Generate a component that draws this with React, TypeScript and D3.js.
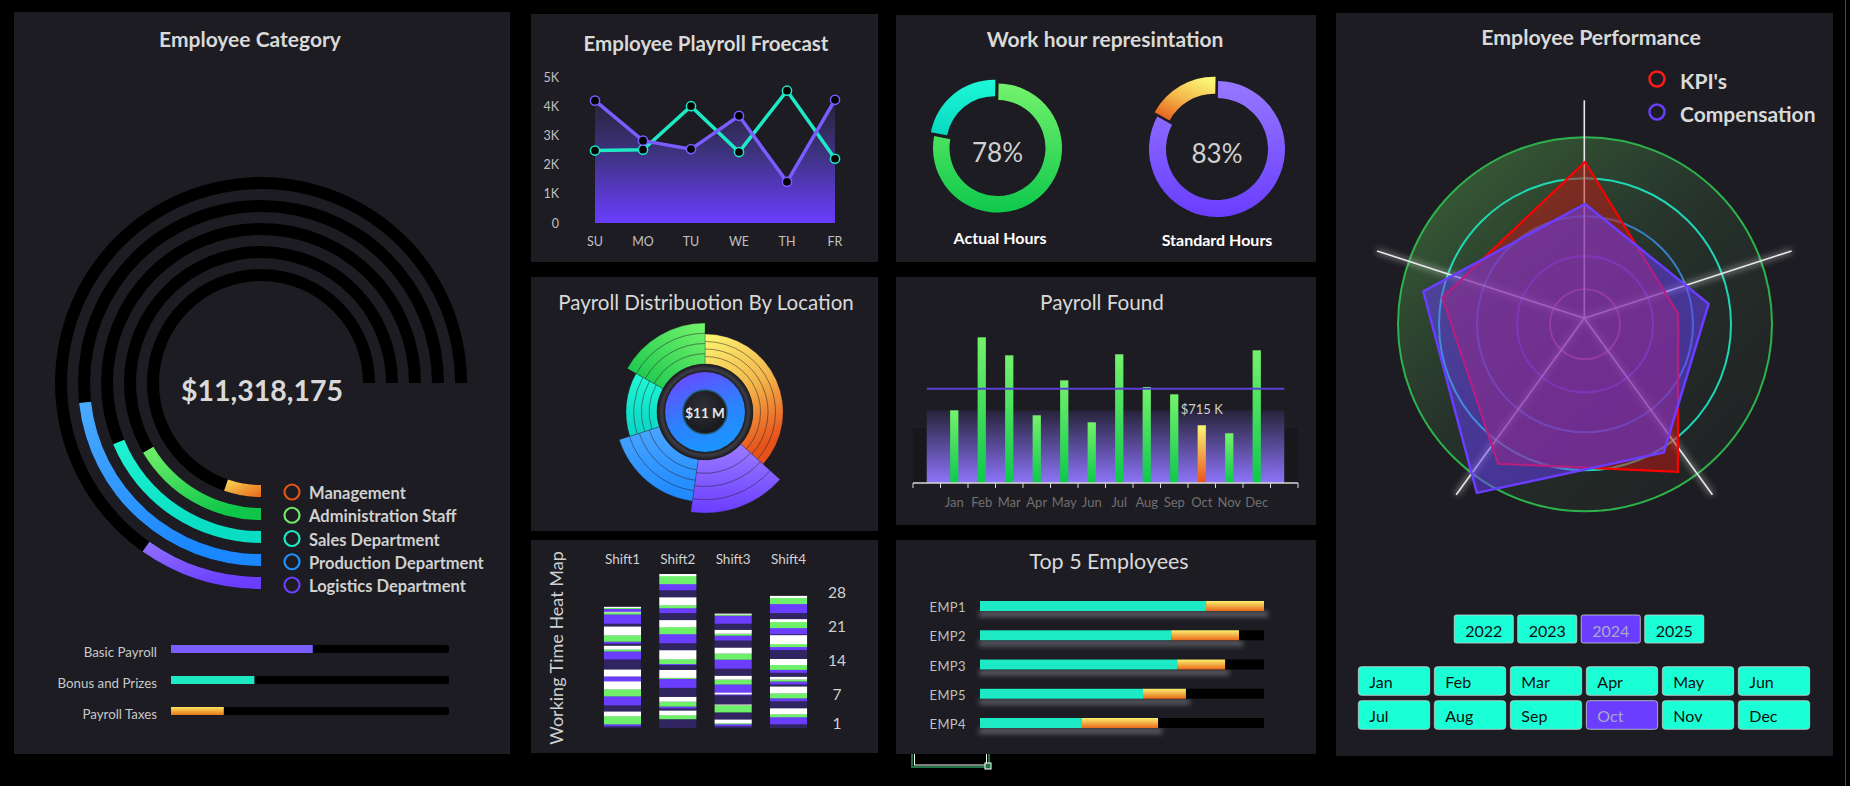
import React from "react";
import * as d3 from "d3";

const FONT = "Lato, 'Open Sans', 'Liberation Sans', sans-serif";
const TITLE = "#d9d9d9";
const PANEL = "#1d1c22";

// ---------------- DATA ----------------
const categoryNames = ["Management", "Administration Staff", "Sales Department", "Production Department", "Logistics Department"];
const categoryPct = [7, 22, 25, 31, 13];
const categoryTotal = 11318175;
const payrollParts = ["Basic Payroll", "Bonus and Prizes", "Payroll Taxes"];
const payrollPartPct = [51, 30, 19];

const forecastDays = ["SU", "MO", "TU", "WE", "TH", "FR"];
const forecastPurple = [4190, 2820, 2530, 3670, 1410, 4220];
const forecastTeal = [2480, 2510, 4000, 2430, 4530, 2200];
const forecastTicks = [0, 1000, 2000, 3000, 4000, 5000];

const locationShare = [36.7, 15.6, 17.8, 13.1, 16.9];
const locationPayroll = [1.68, 2.96, 2.35, 1.73, 2.29];
const locationTotalLabel = "$11 M";

const shifts = ["Shift1", "Shift2", "Shift3", "Shift4"];
const heatTicks = [1, 7, 14, 21, 28];
// [level, hours] from bottom to top; level 0=low .. 3=peak
const shift1 = [[0,0.4],[1,0.4],[2,1.65],[3,1.0],[0,1.25],[1,1.85],[2,1.45],[3,1.65],[1,1.0],[3,1.45],[0,2.05],[1,1.65],[2,0.4],[3,0.8],[0,0.4],[1,0.4],[2,1.3],[3,1.85],[0,0.55],[1,1.9],[2,0.4],[3,0.2],[1,0.55],[2,0.2],[3,0.2]];
const shift2 = [[0,1.85],[2,0.8],[3,1.0],[0,0.4],[1,0.4],[2,1.0],[3,1.0],[0,1.85],[1,1.85],[2,0.2],[3,1.65],[0,1.0],[1,0.2],[2,1.0],[3,1.85],[0,1.45],[1,1.85],[2,1.45],[3,1.45],[0,1.45],[1,1.0],[2,0.6],[3,1.65],[0,1.45],[1,1.25],[2,1.65],[3,0.4]];
const shift3 = [[0,0.4],[1,0.4],[2,0.2],[3,0.8],[0,1.45],[2,1.45],[3,0.2],[0,1.85],[1,0.2],[3,0.4],[1,1.65],[2,1.0],[3,0.8],[0,1.45],[1,1.85],[2,1.25],[3,1.25],[0,1.45],[1,1.0],[2,0.4],[3,0.8],[0,1.25],[1,1.65],[2,0.2],[3,0.2]];
const shift4 = [[0,0.8],[1,1.45],[2,0.6],[3,1.25],[0,1.45],[1,0.6],[2,1.0],[3,1.45],[0,0.4],[1,0.6],[2,0.4],[3,0.6],[0,0.8],[1,0.6],[2,1.0],[3,1.25],[0,1.85],[1,0.6],[2,0.6],[3,1.85],[0,0.2],[1,1.25],[2,1.25],[3,0.6],[0,1.25],[1,1.85],[2,1.25],[3,0.4]];
const shiftSegments = [shift1, shift2, shift3, shift4];

const workLabels = ["Actual Hours", "Standard Hours"];
const workPct = [78, 83];

const months = ["Jan", "Feb", "Mar", "Apr", "May", "Jun", "Jul", "Aug", "Sep", "Oct", "Nov", "Dec"];
const payrollFound = [901, 1805, 1582, 839, 1272, 752, 1595, 1190, 1099, 715, 616, 1644];
const payrollBackdrop = 900;
const payrollFloor = 680;
const highlightMonth = "Oct";

const employees = ["EMP1", "EMP2", "EMP3", "EMP5", "EMP4"];
const employeeBase = [79.6, 67.3, 69.4, 57.4, 35.9];
const employeeBonus = [20.4, 23.9, 16.9, 15.1, 26.8];

const radarSeries = ["KPI's", "Compensation"];
const kpiValues = [91, 49, 79, 74, 75];
const compValues = [70, 65, 67, 92, 85];
const years = ["2022", "2023", "2024", "2025"];
const selectedYear = "2024";
const selectedMonth = "Oct";

// ---------------- STYLE ----------------
const catGrad = [["#f7dc58", "#e8661a"], ["#74f06a", "#0fc64a"], ["#1ff3d2", "#08dcc2"], ["#4aaaff", "#1a86ff"], ["#9272ff", "#6a3dff"]];
const catLegend = ["#e0541a", "#6ee86a", "#1de9c5", "#1e90ff", "#6a3dff"];
const heatColors = ["#302560", "#6a3dff", "#6ef06a", "#ffffff"];
const locGrad = [
  [["#fbf672", 0], ["#f3b44a", 0.55], ["#e6521a", 1]],
  [["#9c7cff", 0], ["#6a3dff", 1]],
  [["#4aa6ff", 0], ["#1c88ff", 1]],
  [["#1ff8d4", 0], ["#0ad4c4", 1]],
  [["#76f46c", 0], ["#0fc24a", 1]],
];

const panels = [
  [14, 12, 496, 742],
  [531, 14, 347, 248],
  [531, 277, 347, 254],
  [531, 540, 347, 213],
  [896, 15, 420, 247],
  [896, 277, 420, 248],
  [896, 540, 420, 214],
  [1336, 13, 497, 743],
];

const arcGen = d3.arc();
const arc = (ir: number, or: number, s: number, e: number) =>
  arcGen({ innerRadius: ir, outerRadius: or, startAngle: s, endAngle: e } as any) || "";

function Title({ x, y, size, bold, children }: any) {
  return (
    <text x={x} y={y} fill={TITLE} fontSize={size} fontWeight={bold ? 700 : 400} textAnchor="middle" dominantBaseline="central">
      {children}
    </text>
  );
}

function CategoryPanel() {
  const cx = 261, cy = 383;
  const ring = d3.scaleBand<string>().domain(categoryNames).range([102, 206]).paddingInner(11 / 23).paddingOuter(0);
  const ang = d3.scaleLinear().domain([0, 100]).range([-Math.PI, Math.PI / 2]);
  const legendY = d3.scalePoint<string>().domain(categoryNames).range([492, 585]);
  const barY = d3.scalePoint<string>().domain(payrollParts).range([649, 711]);
  const barX = d3.scaleLinear().domain([0, 100]).range([171, 449]);
  const barFill = ["#7b5cff", "#1de9c5", "url(#taxg)"];
  return (
    <g>
      <defs>
        {catGrad.map((c, i) => (
          <linearGradient key={i} id={`catg${i}`} x1="0" y1="0" x2={i === 0 ? "1" : "0.5"} y2="1">
            <stop offset="0" stopColor={c[0]} />
            <stop offset="1" stopColor={c[1]} />
          </linearGradient>
        ))}
        <linearGradient id="taxg" x1="0" y1="0" x2="0" y2="1">
          <stop offset="0" stopColor="#fae45a" />
          <stop offset="1" stopColor="#e8761c" />
        </linearGradient>
      </defs>
      <Title x={250} y={38} size={21} bold>Employee Category</Title>
      {categoryNames.map((n, i) => {
        const r0 = ring(n)!;
        const r1 = r0 + ring.bandwidth();
        return (
          <g key={n} transform={`translate(${cx},${cy})`}>
            <path d={arc(r0, r1, ang(0), ang(100))} fill="#000" />
            <path d={arc(r0, r1, ang(0), ang(categoryPct[i]))} fill={`url(#catg${i})`} />
          </g>
        );
      })}
      <text x={262} y={390} fill="#d9d9d9" fontSize={28.5} fontWeight={700} textAnchor="middle" dominantBaseline="central">
        {d3.format("$,")(categoryTotal)}
      </text>
      {categoryNames.map((n, i) => (
        <g key={n}>
          <circle cx={292} cy={legendY(n)} r={7.5} fill="none" stroke={catLegend[i]} strokeWidth={2.2} />
          <text x={309} y={legendY(n)! + 1} fill="#d0d0d0" fontSize={16.5} fontWeight={700} dominantBaseline="central">{n}</text>
        </g>
      ))}
      {payrollParts.map((p, i) => (
        <g key={p}>
          <text x={157} y={barY(p)! + 3} fill="#c8c8c8" fontSize={13.3} textAnchor="end" dominantBaseline="central">{p}</text>
          <rect x={barX(0)} y={barY(p)! - 4} width={barX(100) - barX(0)} height={8} rx={2} fill="#000" />
          <rect x={barX(0)} y={barY(p)! - 4} width={barX(payrollPartPct[i]) - barX(0)} height={8} fill={barFill[i]} />
        </g>
      ))}
    </g>
  );
}

function ForecastPanel() {
  const x = d3.scalePoint<string>().domain(forecastDays).range([595, 835]);
  const y = d3.scaleLinear().domain([0, 5000]).range([223, 77]);
  const px = (_: any, i: number) => x(forecastDays[i])!;
  const area = d3.area<number>().x(px).y0(y(0)).y1((d) => y(d));
  const line = d3.line<number>().x(px).y((d) => y(d));
  const fmt = (v: number) => (v === 0 ? "0" : `${v / 1000}K`);
  return (
    <g>
      <defs>
        <linearGradient id="fcArea" gradientUnits="userSpaceOnUse" x1="0" y1={y(4300)} x2="0" y2={y(0)}>
          <stop offset="0" stopColor="#262235" />
          <stop offset="0.45" stopColor="#3e3380" />
          <stop offset="1" stopColor="#6a3dff" />
        </linearGradient>
      </defs>
      <Title x={706} y={43} size={20.5} bold>Employee Playroll Froecast</Title>
      {forecastTicks.map((t) => (
        <text key={t} x={559} y={y(t)} fill="#c0c0c0" fontSize={12.5} textAnchor="end" dominantBaseline="central">{fmt(t)}</text>
      ))}
      {forecastDays.map((d) => (
        <text key={d} x={x(d)} y={241} fill="#c0c0c0" fontSize={12.5} textAnchor="middle" dominantBaseline="central">{d}</text>
      ))}
      <path d={area(forecastPurple) || ""} fill="url(#fcArea)" />
      <path d={line(forecastTeal) || ""} fill="none" stroke="#1de9c5" strokeWidth={3.5} />
      <path d={line(forecastPurple) || ""} fill="none" stroke="#7b5cff" strokeWidth={3.5} />
      {forecastTeal.map((v, i) => (
        <circle key={"t" + i} cx={px(v, i)} cy={y(v)} r={4.6} fill="#000" stroke="#1de9c5" strokeWidth={1.5} />
      ))}
      {forecastPurple.map((v, i) => (
        <circle key={"p" + i} cx={px(v, i)} cy={y(v)} r={4.6} fill="#000" stroke="#7b5cff" strokeWidth={1.5} />
      ))}
    </g>
  );
}

function DistributionPanel() {
  const cx = 705, cy = 412;
  const pie = d3.pie<number>().sort(null).value((d) => d)(locationShare);
  const r = d3.scaleLinear().domain([0, d3.max(locationPayroll)!]).range([48, 101]);
  const bands = 4;
  return (
    <g>
      <defs>
        {locGrad.map((g, i) => (
          <linearGradient key={i} id={`locg${i}`} x1={i === 4 ? "1" : "0"} y1="0" x2={i === 4 ? "0" : i === 0 ? "0.35" : "0"} y2="1">
            {g.map((s: any, k: number) => (
              <stop key={k} offset={s[1]} stopColor={s[0]} />
            ))}
          </linearGradient>
        ))}
        <linearGradient id="locBlue" x1="0.2" y1="0" x2="0.6" y2="1">
          <stop offset="0" stopColor="#6a48ff" />
          <stop offset="0.6" stopColor="#2a84ff" />
          <stop offset="1" stopColor="#1a96ff" />
        </linearGradient>
        <radialGradient id="locDark" cx="0.5" cy="0.5" r="0.5">
          <stop offset="0.8" stopColor="#0c0c0e" />
          <stop offset="0.9" stopColor="#3c3c44" />
          <stop offset="1" stopColor="#1a1a1e" />
        </radialGradient>
        <radialGradient id="locCore" cx="0.45" cy="0.4" r="0.6">
          <stop offset="0" stopColor="#303038" />
          <stop offset="1" stopColor="#17171c" />
        </radialGradient>
      </defs>
      <Title x={706} y={302} size={20.5}>Payroll Distribuotion By Location</Title>
      <g transform={`translate(${cx},${cy})`}>
        {pie.map((p, i) => {
          const R = r(locationPayroll[i]);
          const w = (R - 48) / bands;
          return (
            <g key={i}>
              <path d={arc(48, R, p.startAngle, p.endAngle)} fill={`url(#locg${i})`} />
              {d3.range(bands).map((b) => (
                <path key={b} d={arc(48 + b * w, 48 + (b + 1) * w, p.startAngle, p.endAngle)} fill="none" stroke="rgba(40,30,40,0.35)" strokeWidth={0.8} />
              ))}
            </g>
          );
        })}
        <circle r={48} fill="url(#locDark)" />
        <circle r={40} fill="url(#locBlue)" />
        <circle r={22} fill="url(#locCore)" stroke="#1d5a70" strokeWidth={1.5} />
        <text x={0} y={1} fill="#e6e6e6" fontSize={13.5} fontWeight={700} textAnchor="middle" dominantBaseline="central">{locationTotalLabel}</text>
      </g>
    </g>
  );
}

function HeatPanel() {
  const x = d3.scaleBand<string>().domain(shifts).range([594.8, 816.2]).paddingInner(0.33).paddingOuter(0.165);
  const y = d3.scaleLinear().domain([0, 28]).range([728, 592]);
  return (
    <g>
      <text transform="translate(556,648) rotate(-90)" fill="#d0d0d0" fontSize={18} textAnchor="middle" dominantBaseline="central">
        Working Time Heat Map
      </text>
      {shifts.map((s, si) => {
        let acc = 0;
        return (
          <g key={s}>
            <text x={x(s)! + x.bandwidth() / 2} y={559} fill="#d0d0d0" fontSize={13.5} textAnchor="middle" dominantBaseline="central">{s}</text>
            {shiftSegments[si].map((seg, k) => {
              const y0 = y(acc);
              acc += seg[1];
              const y1 = y(acc);
              return <rect key={k} x={x(s)} y={y1} width={x.bandwidth()} height={y0 - y1 + 0.2} fill={heatColors[seg[0]]} />;
            })}
          </g>
        );
      })}
      {heatTicks.map((t) => (
        <text key={t} x={837} y={y(t)} fill="#d0d0d0" fontSize={15.5} textAnchor="middle" dominantBaseline="central">{t}</text>
      ))}
    </g>
  );
}

function WorkPanel() {
  const geo = [
    { cx: 997.5, cy: 148, ro: 64.5, ri: 48, main: "url(#whGreen)", rest: "url(#whTeal)", ly: 237 },
    { cx: 1217, cy: 149, ro: 68, ri: 51, main: "url(#whPurple)", rest: "url(#whYellow)", ly: 239 },
  ];
  return (
    <g>
      <defs>
        <linearGradient id="whGreen" x1="0" y1="0" x2="0" y2="1">
          <stop offset="0" stopColor="#74f26c" />
          <stop offset="1" stopColor="#0ec84c" />
        </linearGradient>
        <linearGradient id="whTeal" x1="0" y1="0" x2="0" y2="1">
          <stop offset="0" stopColor="#1ef8d8" />
          <stop offset="1" stopColor="#07d8bf" />
        </linearGradient>
        <linearGradient id="whPurple" x1="0" y1="0" x2="0" y2="1">
          <stop offset="0" stopColor="#9678ff" />
          <stop offset="1" stopColor="#6a3dff" />
        </linearGradient>
        <linearGradient id="whYellow" x1="0.7" y1="0" x2="0.1" y2="1">
          <stop offset="0" stopColor="#faf474" />
          <stop offset="0.5" stopColor="#f2b448" />
          <stop offset="1" stopColor="#e6561a" />
        </linearGradient>
      </defs>
      <Title x={1105} y={38} size={21} bold>Work hour represintation</Title>
      {workPct.map((v, i) => {
        const g = geo[i];
        const parts = d3.pie<number>().sort(null).padAngle(0.035).value((d) => d)([v, 100 - v]);
        const rest = parts[1];
        const mid = (rest.startAngle + rest.endAngle) / 2;
        const off = 5;
        return (
          <g key={i}>
            <g transform={`translate(${g.cx},${g.cy})`}>
              <path d={arc(g.ri, g.ro, parts[0].startAngle + 0.017, parts[0].endAngle + 0.017)} fill={g.main} />
              <path
                transform={`translate(${Math.sin(mid) * off},${-Math.cos(mid) * off})`}
                d={arc(g.ri, g.ro, rest.startAngle + 0.017, rest.endAngle + 0.017)}
                fill={g.rest}
              />
              <text x={0} y={4} fill="#d0d0d0" fontSize={26} textAnchor="middle" dominantBaseline="central">{v}%</text>
            </g>
            <text x={i === 0 ? 1000 : 1217} y={g.ly} fill="#ffffff" fontSize={16} fontWeight={700} textAnchor="middle" dominantBaseline="central">
              {workLabels[i]}
            </text>
          </g>
        );
      })}
    </g>
  );
}

function PayrollFoundPanel() {
  const cats = ["_s", ...months, "_e"];
  const x = d3.scaleBand<string>().domain(cats).range([913, 1298]).paddingInner(0.7).paddingOuter(0.35);
  const y = d3.scaleLinear().domain([0, 2000]).range([483, 483 - 161.4]);
  const step = x.step();
  const c = (k: string) => x(k)! + x.bandwidth() / 2;
  const avg = d3.mean(payrollFound)!;
  const hi = months.indexOf(highlightMonth);
  return (
    <g>
      <defs>
        <linearGradient id="pfBack" gradientUnits="userSpaceOnUse" x1="0" y1={y(payrollBackdrop)} x2="0" y2={y(0)}>
          <stop offset="0" stopColor="#27233a" />
          <stop offset="1" stopColor="#8c74fa" />
        </linearGradient>
        <linearGradient id="pfGreen" x1="0" y1="0" x2="0" y2="1">
          <stop offset="0" stopColor="#74f26c" />
          <stop offset="1" stopColor="#0ec84c" />
        </linearGradient>
        <linearGradient id="pfOrange" x1="0" y1="0" x2="0" y2="1">
          <stop offset="0" stopColor="#fbf774" />
          <stop offset="1" stopColor="#e8541a" />
        </linearGradient>
      </defs>
      <Title x={1102} y={302} size={20.7}>Payroll Found</Title>
      <rect x={913} y={y(payrollFloor)} width={385} height={y(0) - y(payrollFloor)} fill="#18171c" />
      <rect x={c("_s")} y={y(payrollBackdrop)} width={c("_e") - c("_s")} height={y(0) - y(payrollBackdrop)} fill="url(#pfBack)" />
      {months.map((m, i) => (
        <rect key={m} x={x(m)} y={y(payrollFound[i])} width={x.bandwidth()} height={y(0) - y(payrollFound[i])} fill={i === hi ? "url(#pfOrange)" : "url(#pfGreen)"} />
      ))}
      <line x1={c("_s")} x2={c("_e")} y1={y(avg)} y2={y(avg)} stroke="#5a3fd6" strokeWidth={2} />
      <text x={c(highlightMonth)} y={y(payrollFound[hi]) - 16} fill="#d0d0d0" fontSize={13} textAnchor="middle" dominantBaseline="central">
        {`$${payrollFound[hi]} K`}
      </text>
      <line x1={913} x2={1298} y1={483} y2={483} stroke="#d8d8d8" strokeWidth={1.5} />
      {d3.range(cats.length + 1).map((k) => (
        <line key={k} x1={913 + k * step} x2={913 + k * step} y1={483} y2={488} stroke="#d8d8d8" strokeWidth={1} />
      ))}
      {months.map((m) => (
        <text key={m} x={c(m)} y={502} fill="#707070" fontSize={13} textAnchor="middle" dominantBaseline="central">{m}</text>
      ))}
    </g>
  );
}

function TopPanel() {
  const y = d3.scalePoint<string>().domain(employees).range([606, 723]);
  const x = d3.scaleLinear().domain([0, 100]).range([980, 1264]);
  return (
    <g>
      <defs>
        <linearGradient id="tpOrange" x1="0" y1="0" x2="0" y2="1">
          <stop offset="0" stopColor="#faf070" />
          <stop offset="1" stopColor="#ea6a1c" />
        </linearGradient>
        <filter id="tpShadow" x="-10%" y="-200%" width="120%" height="500%">
          <feGaussianBlur stdDeviation="2.5" />
        </filter>
      </defs>
      <Title x={1109} y={561} size={21.5}>Top 5 Employees</Title>
      {employees.map((e, i) => {
        const cy = y(e)!;
        const end = x(employeeBase[i] + employeeBonus[i]);
        return (
          <g key={e}>
            <text x={966} y={cy + 1} fill="#c0c0c0" fontSize={13} letterSpacing={0.4} textAnchor="end" dominantBaseline="central">{e}</text>
            <rect x={979} y={cy + 5} width={end - 979 + 4} height={6} fill="#5a5a64" filter="url(#tpShadow)" />
            <rect x={x(0)} y={cy - 5} width={x(100) - x(0)} height={10} fill="#000" />
            <rect x={x(0)} y={cy - 5} width={x(employeeBase[i]) - x(0)} height={10} fill="#1de9c5" />
            <rect x={x(employeeBase[i])} y={cy - 5} width={end - x(employeeBase[i])} height={10} fill="url(#tpOrange)" />
          </g>
        );
      })}
    </g>
  );
}

function PerformancePanel() {
  const cx = 1585, cy = 344;
  const n = kpiValues.length;
  const angle = d3.scaleLinear().domain([0, n]).range([0, 2 * Math.PI]);
  const r = d3.scaleLinear().domain([0, 100]).range([0, 200]);
  const radial = d3.lineRadial<number>().angle((_, i) => angle(i)).radius((d) => r(d)).curve(d3.curveLinearClosed);
  const spokeC = [1584.3, 318.3];
  const ringC = [1585, 324.3];
  const rings = [
    [187, "#2fc150"],
    [146, "#1de9c5"],
    [108, "#3a86d8"],
    [68, "#7444e6"],
    [35, "#c0607a"],
  ];
  const legendCol = ["#ff1a1a", "#6a3dff"];
  const yb = d3.scaleBand<string>().domain(years).range([1452, 1706]).paddingInner(0.07).paddingOuter(0.035);
  const mCols = months.slice(0, 6);
  const mb = d3.scaleBand<string>().domain(mCols.map((_, i) => String(i))).range([1356, 1812]).paddingInner(0.062).paddingOuter(0.031);
  const rowY = [666.7, 700.7];
  return (
    <g>
      <defs>
        <linearGradient id="pfDisc" x1="0.15" y1="0.1" x2="0.85" y2="0.9">
          <stop offset="0" stopColor="#4a8a44" stopOpacity={0.55} />
          <stop offset="0.5" stopColor="#2f4a35" stopOpacity={0.45} />
          <stop offset="1" stopColor="#263029" stopOpacity={0.35} />
        </linearGradient>
        <filter id="glow" x="-20%" y="-20%" width="140%" height="140%">
          <feGaussianBlur stdDeviation="3" />
        </filter>
      </defs>
      <Title x={1591} y={37} size={21.3} bold>Employee Performance</Title>
      {radarSeries.map((s, i) => (
        <g key={s}>
          <circle cx={1657} cy={79 + i * 33} r={7.5} fill="none" stroke={legendCol[i]} strokeWidth={2.5} />
          <text x={1680} y={80 + i * 33} fill="#d9d9d9" fontSize={21} fontWeight={700} dominantBaseline="central">{s}</text>
        </g>
      ))}
      <circle cx={ringC[0]} cy={ringC[1]} r={187} fill="url(#pfDisc)" />
      {rings.map(([rr, col], i) => (
        <circle key={i} cx={ringC[0]} cy={ringC[1]} r={rr as number} fill="none" stroke={col as string} strokeWidth={2} opacity={0.9} />
      ))}
      <g transform={`translate(${spokeC[0]},${spokeC[1]})`}>
        {d3.range(n).map((k) => {
          const a = angle(k);
          const x2 = Math.sin(a) * 218, y2 = -Math.cos(a) * 218;
          return (
            <g key={k}>
              <line x1={0} y1={0} x2={x2} y2={y2} stroke="#ffffff" strokeWidth={5} opacity={0.35} filter="url(#glow)" />
              <line x1={0} y1={0} x2={x2} y2={y2} stroke="#e8e8e8" strokeWidth={1.6} />
            </g>
          );
        })}
      </g>
      <g transform={`translate(${cx},${cy})`}>
        <path d={radial(kpiValues) || ""} fill="#c81414" fillOpacity={0.5} stroke="#ff0000" strokeWidth={2.2} strokeLinejoin="miter" />
        <path d={radial(compValues) || ""} fill="#6a3dff" fillOpacity={0.5} stroke="#6a3dff" strokeWidth={2.5} strokeLinejoin="miter" />
      </g>
      {years.map((yv) => {
        const sel = yv === selectedYear;
        return (
          <g key={yv}>
            <rect x={yb(yv)} y={615} width={yb.bandwidth()} height={28} rx={2} fill={sel ? "#6a3dff" : "#1affd5"} stroke="#cfcfcf" strokeWidth={0.8} />
            <text x={yb(yv)! + yb.bandwidth() / 2} y={630} fill={sel ? "#a8a8c8" : "#111"} fontSize={16} textAnchor="middle" dominantBaseline="central">{yv}</text>
          </g>
        );
      })}
      {months.map((m, i) => {
        const col = String(i % 6);
        const row = Math.floor(i / 6);
        const sel = m === selectedMonth;
        return (
          <g key={m}>
            <rect x={mb(col)} y={rowY[row]} width={mb.bandwidth()} height={28.6} rx={3} fill={sel ? "#6a3dff" : "#1affd5"} stroke="#cfcfcf" strokeWidth={0.8} />
            <text x={mb(col)! + 11} y={rowY[row] + 15} fill={sel ? "#a8a8c8" : "#111"} fontSize={16} dominantBaseline="central">{m}</text>
          </g>
        );
      })}
    </g>
  );
}

export default function App() {
  return (
    <svg width={1850} height={786} style={{ position: "absolute", left: 0, top: 0, display: "block" }} fontFamily={FONT}>
      <rect width={1850} height={786} fill="#000" />
      <line x1={1845.5} x2={1845.5} y1={0} y2={786} stroke="#4a4a4a" />
      <rect x={912} y={735} width={77} height={32} fill="none" stroke="#217346" strokeWidth={2} />
      <rect x={914.5} y={735} width={72} height={30} fill="none" stroke="#ffffff" strokeWidth={1} />
      <rect x={985} y={763} width={6} height={6} fill="#217346" stroke="#ffffff" strokeWidth={1} />
      {panels.map((p, i) => (
        <rect key={i} x={p[0]} y={p[1]} width={p[2]} height={p[3]} fill={PANEL} />
      ))}
      <CategoryPanel />
      <ForecastPanel />
      <DistributionPanel />
      <HeatPanel />
      <WorkPanel />
      <PayrollFoundPanel />
      <TopPanel />
      <PerformancePanel />
    </svg>
  );
}
